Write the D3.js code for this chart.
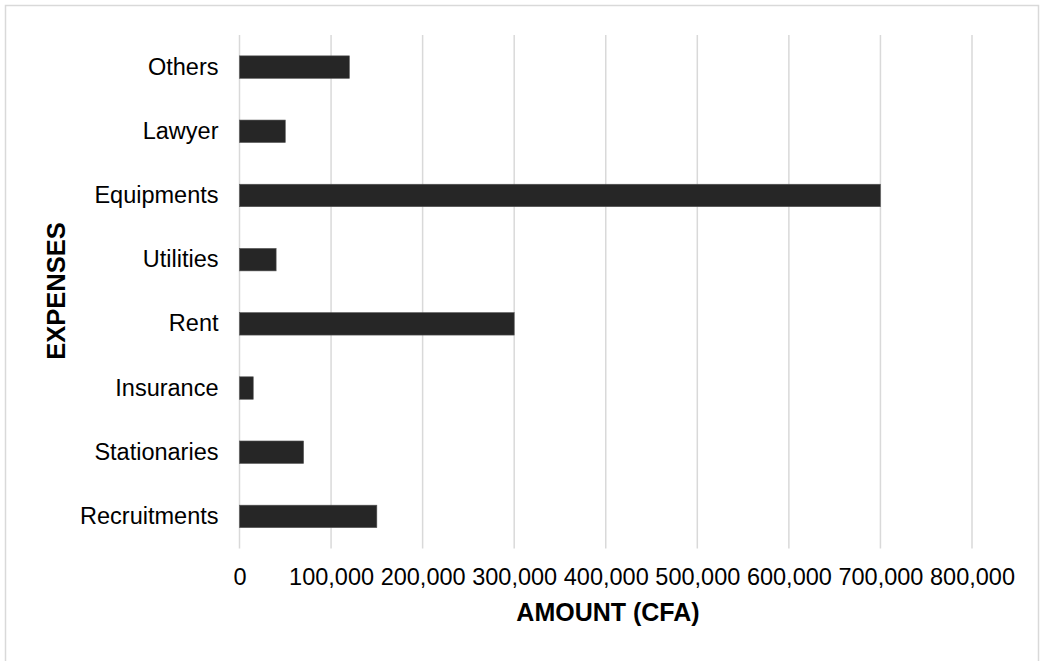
<!DOCTYPE html>
<html>
<head>
	<meta charset="UTF-8">
	<title>Expenses</title>
	<script src="https://d3js.org/d3.v7.min.js"></script>
	<style>
		body { margin: 0; background: #fff; }
		text { font-family: "Liberation Sans", Arial, sans-serif; fill: #000; }
		.grid line { stroke: #d9d9d9; stroke-width: 1.5px; }
		.bar { fill: #262626; stroke: #555; stroke-width: 0.6px; }
	</style>
</head>
<body>
	<script>
		// chart data (top to bottom)
		var categories = ["Others", "Lawyer", "Equipments", "Utilities", "Rent", "Insurance", "Stationaries", "Recruitments"];
		var amounts = [120000, 50000, 700000, 40000, 300000, 15000, 70000, 150000];
		var ticks = [0, 100000, 200000, 300000, 400000, 500000, 600000, 700000, 800000];

		var width = 1044, height = 661;
		var margin = {top: 35, right: 72, bottom: 112.5, left: 239.5};

		var svg = d3.select("body").append("svg")
			.attr("width", width)
			.attr("height", height);

		// outer border
		svg.append("rect")
			.attr("x", 5.5).attr("y", 5.5)
			.attr("width", width - 11).attr("height", height + 10)
			.attr("fill", "none")
			.attr("stroke", "#d9d9d9")
			.attr("stroke-width", 1.5);

		var x = d3.scaleLinear()
			.domain([0, 800000])
			.range([margin.left, width - margin.right]);

		var y = d3.scaleBand()
			.domain(categories)
			.range([margin.top, height - margin.bottom])
			.paddingInner(0.65)
			.paddingOuter(0.325);

		// vertical gridlines
		svg.append("g")
			.attr("class", "grid")
			.selectAll("line")
			.data(ticks)
			.enter().append("line")
			.attr("x1", function(d) { return x(d); })
			.attr("x2", function(d) { return x(d); })
			.attr("y1", margin.top)
			.attr("y2", height - margin.bottom);

		// bars
		svg.selectAll(".bar")
			.data(categories)
			.enter().append("rect")
			.attr("class", "bar")
			.attr("x", x(0))
			.attr("y", function(d) { return y(d); })
			.attr("width", function(d, i) { return x(amounts[i]) - x(0); })
			.attr("height", y.bandwidth());

		// x axis labels
		var fmt = d3.format(",");
		var xAxis = d3.axisBottom(x)
			.tickValues(ticks)
			.tickFormat(function(d) { return fmt(d); })
			.tickSize(0)
			.tickPadding(20);
		svg.append("g")
			.attr("transform", "translate(0," + (height - margin.bottom) + ")")
			.call(xAxis)
			.call(function(g) { g.select(".domain").remove(); })
			.selectAll("text")
			.style("font-size", "23.5px")
			.style("font-family", "'Liberation Sans', Arial, sans-serif")
			.attr("fill", "#000");

		// y axis labels
		var yAxis = d3.axisLeft(y).tickSize(0).tickPadding(21);
		svg.append("g")
			.attr("transform", "translate(" + margin.left + ",0)")
			.call(yAxis)
			.call(function(g) { g.select(".domain").remove(); })
			.selectAll("text")
			.style("font-size", "23.5px")
			.style("font-family", "'Liberation Sans', Arial, sans-serif")
			.attr("fill", "#000");

		// axis titles
		svg.append("text")
			.attr("x", 608)
			.attr("y", 621)
			.attr("text-anchor", "middle")
			.style("font-size", "25px")
			.style("font-weight", "bold")
			.text("AMOUNT (CFA)");

		svg.append("text")
			.attr("transform", "translate(65,291) rotate(-90)")
			.attr("text-anchor", "middle")
			.style("font-size", "25.5px")
			.style("font-weight", "bold")
			.text("EXPENSES");
	</script>
</body>
</html>
